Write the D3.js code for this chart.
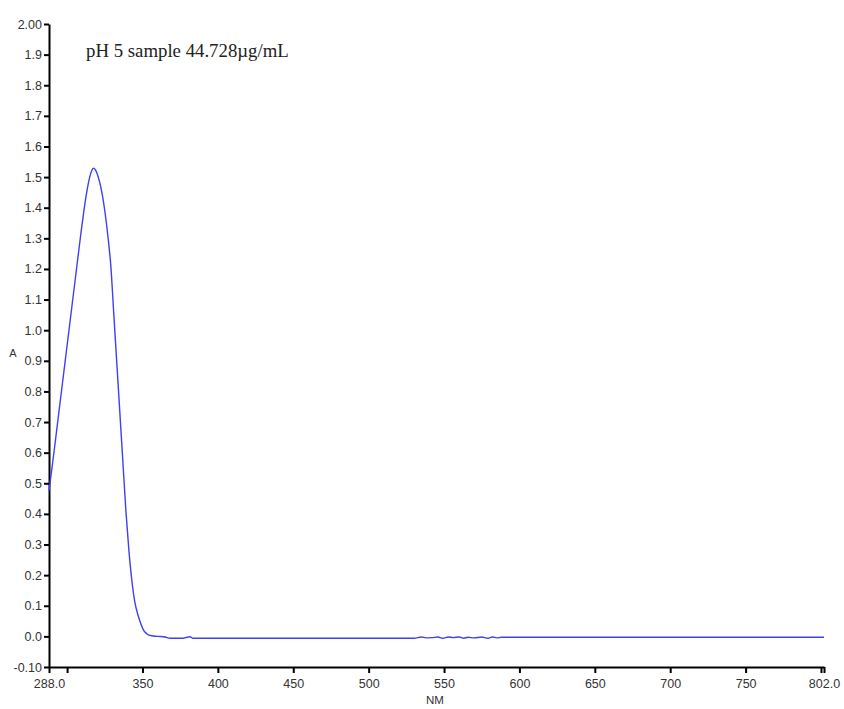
<!DOCTYPE html>
<html>
<head>
<meta charset="utf-8">
<script src="https://cdn.jsdelivr.net/npm/d3@7"></script>
<style>
  html, body { margin: 0; padding: 0; background: #fff; }
  svg { display: block; }
</style>
</head>
<body>
<svg id="chart" width="844" height="709"></svg>
<script>
// ---- data ----
const wavelengths = [288, 291, 294, 297, 300, 303, 306, 309, 311, 313, 315, 316.3, 317.4, 318.6, 320, 321.5, 323, 325, 327, 329, 331, 333, 335, 337, 339, 341, 343, 345, 347, 349, 351, 353, 356, 360, 365, 368.2, 377.1, 379.5, 381.5, 383.5, 400, 450, 500, 530, 535, 538, 542, 546, 549, 553, 556, 560, 563, 566, 570, 575, 579, 582, 585, 588, 600, 700, 802];
const absorbance  = [0.475, 0.59, 0.71, 0.83, 0.95, 1.07, 1.19, 1.31, 1.385, 1.45, 1.50, 1.521, 1.529, 1.525, 1.510, 1.485, 1.452, 1.39, 1.31, 1.21, 1.05, 0.89, 0.73, 0.57, 0.41, 0.28, 0.18, 0.11, 0.07, 0.04, 0.018, 0.008, 0.002, 0.000, -0.002, -0.006, -0.006, -0.003, -0.001, -0.006, -0.006, -0.006, -0.006, -0.006, -0.002, -0.005, -0.004, -0.002, -0.006, -0.002, -0.004, -0.002, -0.006, -0.003, -0.005, -0.002, -0.006, -0.002, -0.005, -0.003, -0.003, -0.003, -0.003];
const yTickValues = [-0.1, 0.0, 0.1, 0.2, 0.3, 0.4, 0.5, 0.6, 0.7, 0.8, 0.9, 1.0, 1.1, 1.2, 1.3, 1.4, 1.5, 1.6, 1.7, 1.8, 1.9, 2.0];
const yTickLabels = ["-0.10", "0.0", "0.1", "0.2", "0.3", "0.4", "0.5", "0.6", "0.7", "0.8", "0.9", "1.0", "1.1", "1.2", "1.3", "1.4", "1.5", "1.6", "1.7", "1.8", "1.9", "2.00"];
const xTickValues = [288, 300, 350, 400, 450, 500, 550, 600, 650, 700, 750, 800, 802];
const xTickLabels = ["288.0", "", "350", "400", "450", "500", "550", "600", "650", "700", "750", "", "802.0"];
const titleText = "pH 5 sample 44.728\u00b5g/mL";
const xLabel = "NM";
const yLabel = "A";

// ---- layout ----
const svg = d3.select("#chart");
const mLeft = 49, mRight = 824, mTop = 24, mBottom = 667;

const x = d3.scaleLinear().domain([288, 802]).range([mLeft, mRight]);
const y = d3.scaleLinear().domain([-0.1, 2.0]).range([mBottom, mTop]);

const axisFont = "'Liberation Sans', Arial, sans-serif";

// y axis
const yAxis = d3.axisLeft(y)
  .tickValues(yTickValues)
  .tickFormat((d, i) => yTickLabels[i])
  .tickSize(5)
  .tickSizeOuter(0)
  .tickPadding(2);
const gy = svg.append("g").attr("transform", `translate(${mLeft},0)`).call(yAxis);
gy.select(".domain").attr("stroke", "#000").attr("stroke-width", 2);
gy.selectAll(".tick line").attr("stroke", "#000").attr("stroke-width", 2);
gy.selectAll(".tick text").attr("fill", "#333").style("font-family", axisFont).style("font-size", "12.5px");

// x axis
const xAxis = d3.axisBottom(x)
  .tickValues(xTickValues)
  .tickFormat((d, i) => xTickLabels[i])
  .tickSize(6)
  .tickSizeOuter(0)
  .tickPadding(6);
const gx = svg.append("g").attr("transform", `translate(0,${mBottom})`).call(xAxis);
gx.select(".domain").attr("stroke", "#000").attr("stroke-width", 2);
gx.selectAll(".tick line").attr("stroke", "#000").attr("stroke-width", 2);
gx.selectAll(".tick text").attr("fill", "#333").style("font-family", axisFont).style("font-size", "12.5px");

// axis titles
svg.append("text")
  .attr("x", 13).attr("y", 357)
  .attr("text-anchor", "middle")
  .attr("fill", "#333")
  .style("font-family", axisFont).style("font-size", "11px")
  .text(yLabel);
svg.append("text")
  .attr("x", 435).attr("y", 704)
  .attr("text-anchor", "middle")
  .attr("fill", "#333")
  .style("font-family", axisFont).style("font-size", "11.5px")
  .text(xLabel);

// title
svg.append("text")
  .attr("x", 86).attr("y", 57)
  .attr("fill", "#222")
  .style("font-family", "'Liberation Serif', 'Times New Roman', serif")
  .style("font-size", "18.8px")
  .text(titleText);

// line
const pts = wavelengths.map((w, i) => [w, absorbance[i]]);
const line = d3.line()
  .x(d => x(d[0]))
  .y(d => y(d[1]))
  .curve(d3.curveMonotoneX);
svg.append("path")
  .datum(pts)
  .attr("fill", "none")
  .attr("stroke", "#3f3ff5")
  .attr("stroke-width", 1.4)
  .attr("d", line);
</script>
</body>
</html>
